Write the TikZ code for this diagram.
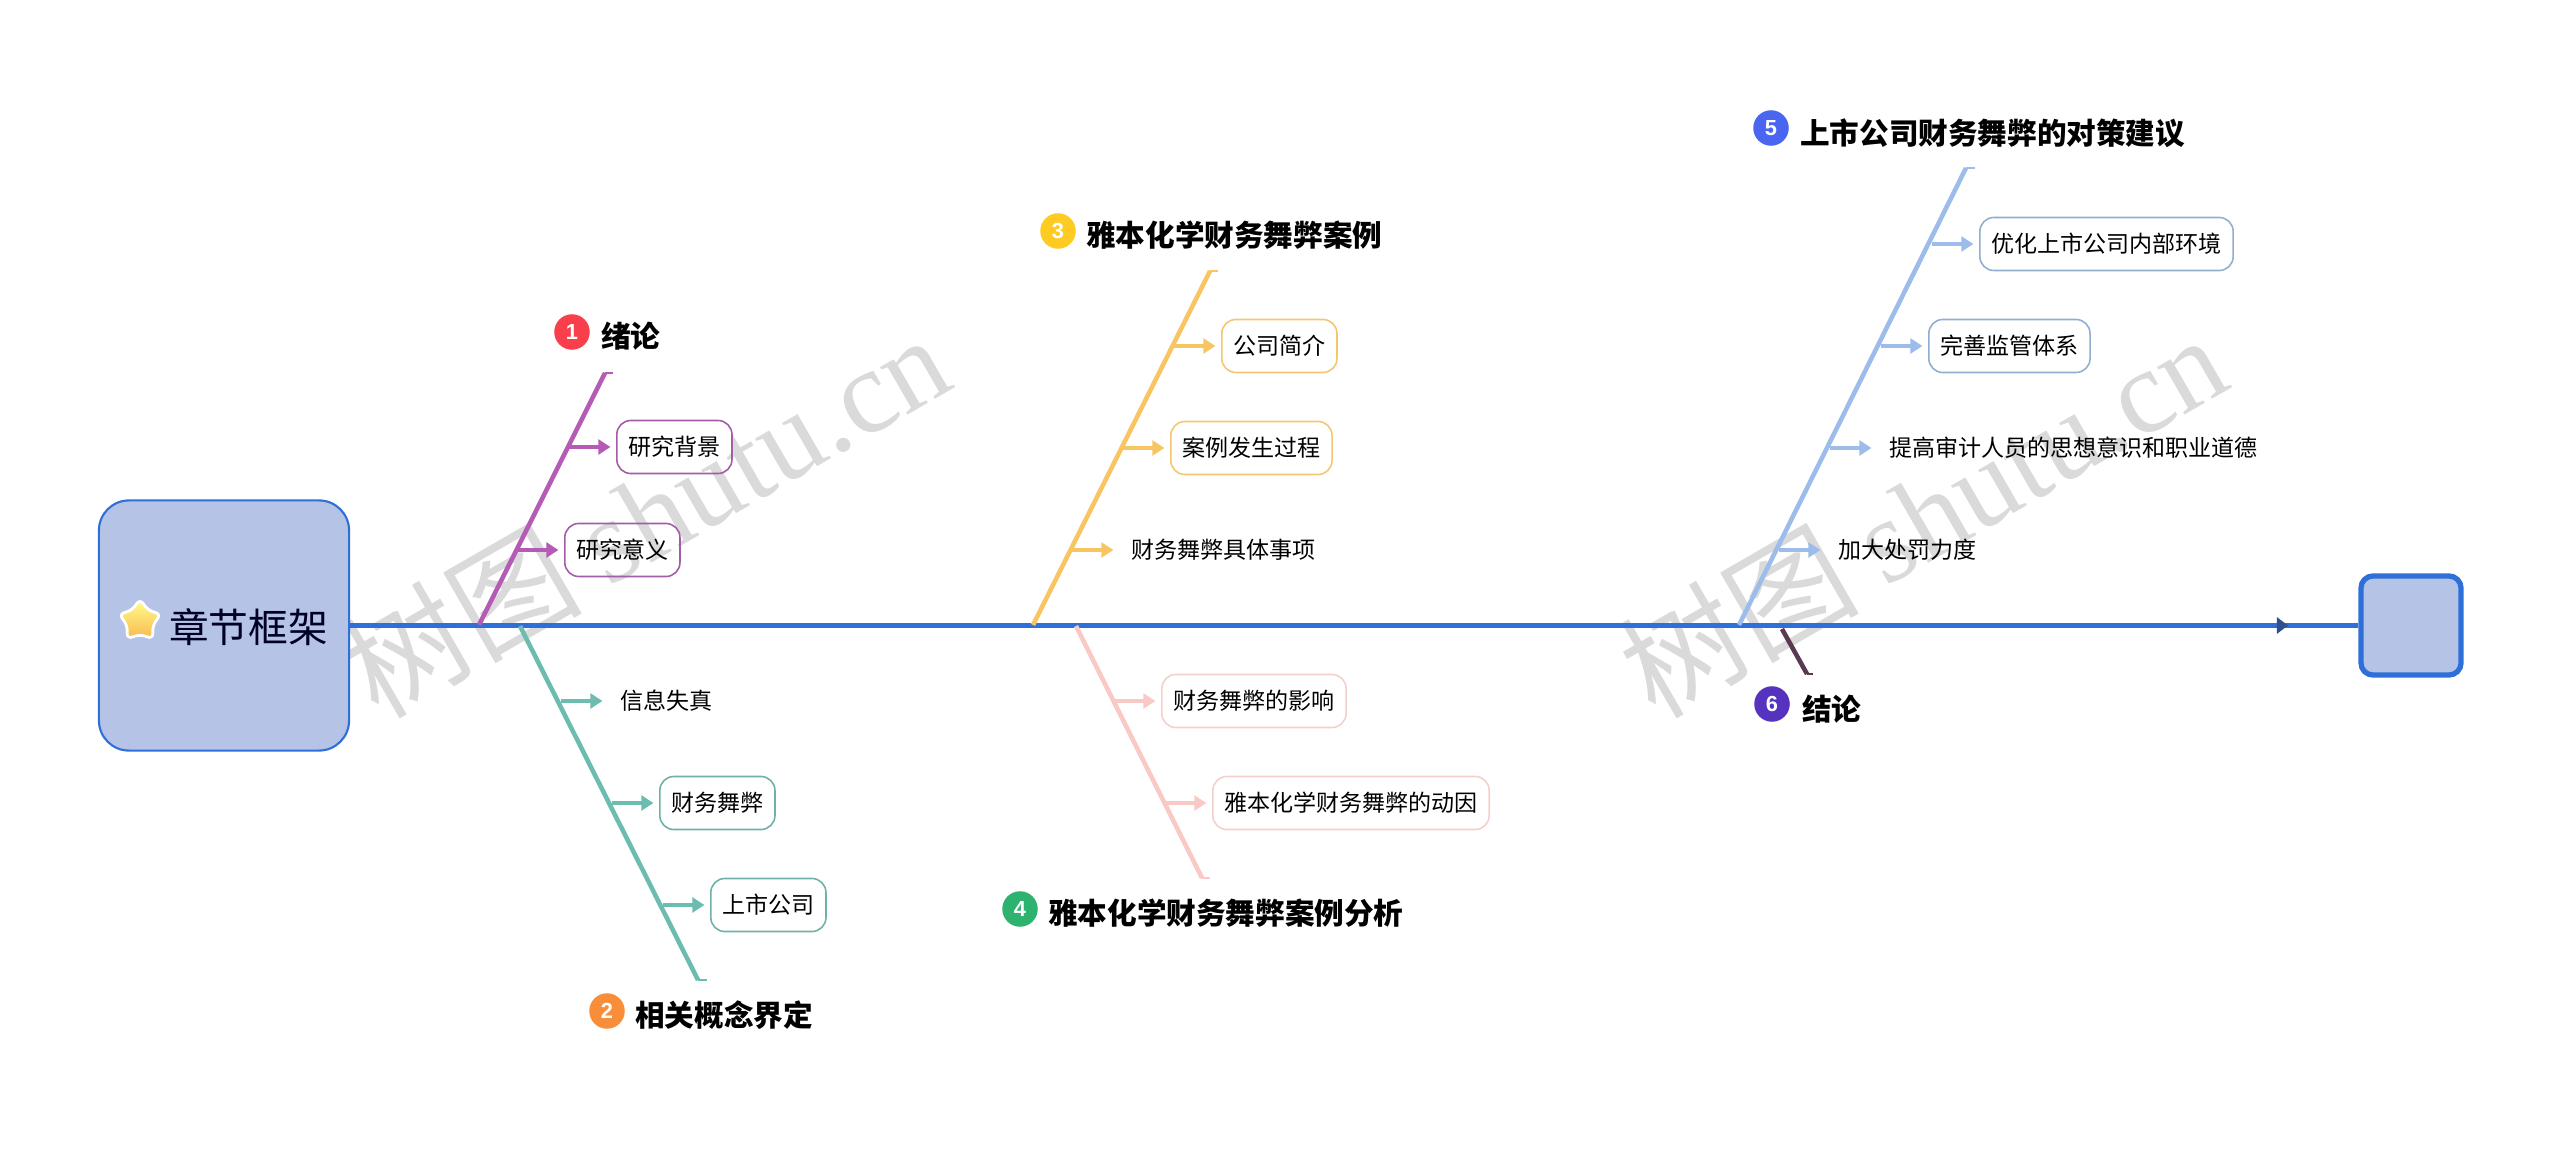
\documentclass[tikz,border=0pt]{standalone}
\usepackage{fontspec}
\setmainfont{Noto Sans CJK SC}
\newfontfamily\markfont{Liberation Serif}
\newfontfamily\numfont{Liberation Sans}
\usetikzlibrary{shapes.geometric,arrows.meta,positioning,decorations.markings}
\definecolor{mainfill}{HTML}{B4C3E6}
\definecolor{mainline}{HTML}{2F6FD8}
\definecolor{tipnavy}{HTML}{2F4F8F}
\definecolor{markgray}{HTML}{DADADA}
\definecolor{purplea}{HTML}{B65BB5}
\definecolor{purpleb}{HTML}{A35CA6}
\definecolor{teala}{HTML}{6CBCB0}
\definecolor{tealb}{HTML}{6FB0A8}
\definecolor{yellowa}{HTML}{F7C663}
\definecolor{yellowb}{HTML}{F3C66F}
\definecolor{pinka}{HTML}{F8C9C5}
\definecolor{pinkb}{HTML}{F4CFCB}
\definecolor{bluea}{HTML}{9DBCEC}
\definecolor{blueb}{HTML}{90AED0}
\definecolor{maroon}{HTML}{5A3A50}
\definecolor{badgea}{HTML}{FA3F4C}
\definecolor{badgeb}{HTML}{F98E3A}
\definecolor{badgec}{HTML}{FDCB22}
\definecolor{badged}{HTML}{2DB36F}
\definecolor{badgee}{HTML}{4A66F0}
\definecolor{badgef}{HTML}{5533BE}
\tikzset{
  leaf/.style={font=\fontsize{6.55}{8}\selectfont,text=black,minimum height=.53cm,inner xsep=.115cm,inner ysep=0pt,rounded corners=.14cm,line width=.45pt},
  head/.style={font=\fontsize{8.42}{10}\selectfont\bfseries,text=black,inner sep=0pt},
  badge/.style={circle,minimum size=.355cm,inner sep=0pt,text=white,font=\numfont\fontsize{6.2}{7}\selectfont\bfseries},
  spine/.style={-,line width=1.3pt},
  hook/.style={-,line width=.6pt},
  twig/.style={line width=1pt,shorten >=1.6pt},
  wmark/.style={text=markgray,rotate=30,inner sep=0pt,font=\fontsize{34}{37}\selectfont}
}
\begin{document}
\begin{tikzpicture}[x=.01cm,y=-.01cm,->,>={Triangle[length=3.4pt,width=4.2pt]},node distance=.47cm]
    \useasboundingbox (0,0) rectangle (2560,1149);

    \node[wmark] (wm1) at (645,514) {树图 {\markfont shutu.cn}};
    \node[wmark] (wm2) at (1922,514) {树图 {\markfont shutu.cn}};

    \node[draw=mainline,fill=mainfill,line width=.6pt,rounded corners=.3cm,minimum size=2.5cm] (root) at (224,625.5) {};
    \node[inner sep=0pt,text=black!85!blue,font=\fontsize{11.3}{13}\selectfont] (title) at (248.5,627) {章节框架};
    \node[star,star points=5,star point ratio=1.8,top color=yellow!45!white,bottom color=yellowa!80!orange,draw=white,line width=.8pt,rounded corners=.07cm,minimum size=.46cm,inner sep=0pt] (fav) at (140,621) {};
    \node[draw=mainline,fill=mainfill,line width=1.5pt,rounded corners=.12cm,minimum width=1cm,minimum height=.99cm] (tail) at (2411,625.5) {};

    \draw[-,line width=1.4pt,mainline,postaction={decorate},decoration={markings,mark=at position .965 with {\arrow{Triangle[length=3.2pt,width=4.6pt,color=tipnavy]}}}] (root) -- (tail);

    % ribs
    \coordinate (s1) at (479,625);   \coordinate (e1) at (605,373); \coordinate (k1) at (613,373);
    \coordinate (s2) at (520,626);   \coordinate (e2) at (698,980); \coordinate (k2) at (707,980);
    \coordinate (s3) at (1033,625);  \coordinate (e3) at (1210,271); \coordinate (k3) at (1218,271);
    \coordinate (s4) at (1076,626);  \coordinate (e4) at (1202,878); \coordinate (k4) at (1210,878);
    \coordinate (s5) at (1739,625);  \coordinate (e5) at (1966,168); \coordinate (k5) at (1975,168);
    \coordinate (s6) at (1782,629);  \coordinate (e6) at (1807,674); \coordinate (k6) at (1813,674);

    % twig roots
    \coordinate (p11) at (569,447);  \coordinate (p12) at (517,550);
    \coordinate (p21) at (561,701);  \coordinate (p22) at (612,803);  \coordinate (p23) at (663,905);
    \coordinate (p31) at (1174,346); \coordinate (p32) at (1123,448); \coordinate (p33) at (1072,550);
    \coordinate (p41) at (1114,701); \coordinate (p42) at (1165,803);
    \coordinate (p51) at (1932,244); \coordinate (p52) at (1881,346); \coordinate (p53) at (1830,448); \coordinate (p54) at (1779,550);

    \node[leaf,draw=purpleb,right=of p11] (n11) {研究背景};
    \node[leaf,draw=purpleb,right=of p12] (n12) {研究意义};

    \node[leaf,right=of p21] (n21) {信息失真};
    \node[leaf,draw=tealb,right=of p22] (n22) {财务舞弊};
    \node[leaf,draw=tealb,right=of p23] (n23) {上市公司};

    \node[leaf,draw=yellowb,right=of p31] (n31) {公司简介};
    \node[leaf,draw=yellowb,right=of p32] (n32) {案例发生过程};
    \node[leaf,right=of p33] (n33) {财务舞弊具体事项};

    \node[leaf,draw=pinkb,right=of p41] (n41) {财务舞弊的影响};
    \node[leaf,draw=pinkb,right=of p42] (n42) {雅本化学财务舞弊的动因};

    \node[leaf,draw=blueb,right=of p51] (n51) {优化上市公司内部环境};
    \node[leaf,draw=blueb,right=of p52] (n52) {完善监管体系};
    \node[leaf,right=of p53] (n53) {提高审计人员的思想意识和职业道德};
    \node[leaf,right=of p54] (n54) {加大处罚力度};

    % titles
    \node[badge,fill=badgea] (b1) at (572,332) {1};
    \node[head,right=.1cm of b1,yshift=-.04cm] (h1) {绪论};
    \node[badge,fill=badgeb] (b2) at (607,1011) {2};
    \node[head,right=.09cm of b2,yshift=-.04cm] (h2) {相关概念界定};
    \node[badge,fill=badgec] (b3) at (1058,231) {3};
    \node[head,right=.09cm of b3,yshift=-.04cm] (h3) {雅本化学财务舞弊案例};
    \node[badge,fill=badged] (b4) at (1020,909) {4};
    \node[head,right=.09cm of b4,yshift=-.04cm] (h4) {雅本化学财务舞弊案例分析};
    \node[badge,fill=badgee] (b5) at (1771,128) {5};
    \node[head,right=.1cm of b5,yshift=-.05cm] (h5) {上市公司财务舞弊的对策建议};
    \node[badge,fill=badgef] (b6) at (1772,704) {6};
    \node[head,right=.11cm of b6,yshift=-.05cm] (h6) {结论};

    \path
    (s1) edge[spine,purplea] (e1)
    (e1) edge[hook,purplea] (k1)
    (p11) edge[twig,purplea] (n11)
    (p12) edge[twig,purplea] (n12)

    (s2) edge[spine,teala] (e2)
    (e2) edge[hook,teala] (k2)
    (p21) edge[twig,teala] (n21)
    (p22) edge[twig,teala] (n22)
    (p23) edge[twig,teala] (n23)

    (s3) edge[spine,yellowa] (e3)
    (e3) edge[hook,yellowa] (k3)
    (p31) edge[twig,yellowa] (n31)
    (p32) edge[twig,yellowa] (n32)
    (p33) edge[twig,yellowa] (n33)

    (s4) edge[spine,pinka] (e4)
    (e4) edge[hook,pinka] (k4)
    (p41) edge[twig,pinka] (n41)
    (p42) edge[twig,pinka] (n42)

    (s5) edge[spine,bluea] (e5)
    (e5) edge[hook,bluea] (k5)
    (p51) edge[twig,bluea] (n51)
    (p52) edge[twig,bluea] (n52)
    (p53) edge[twig,bluea] (n53)
    (p54) edge[twig,bluea] (n54)

    (s6) edge[spine,maroon] (e6)
    (e6) edge[hook,maroon] (k6)
    ;
\end{tikzpicture}
\end{document}
